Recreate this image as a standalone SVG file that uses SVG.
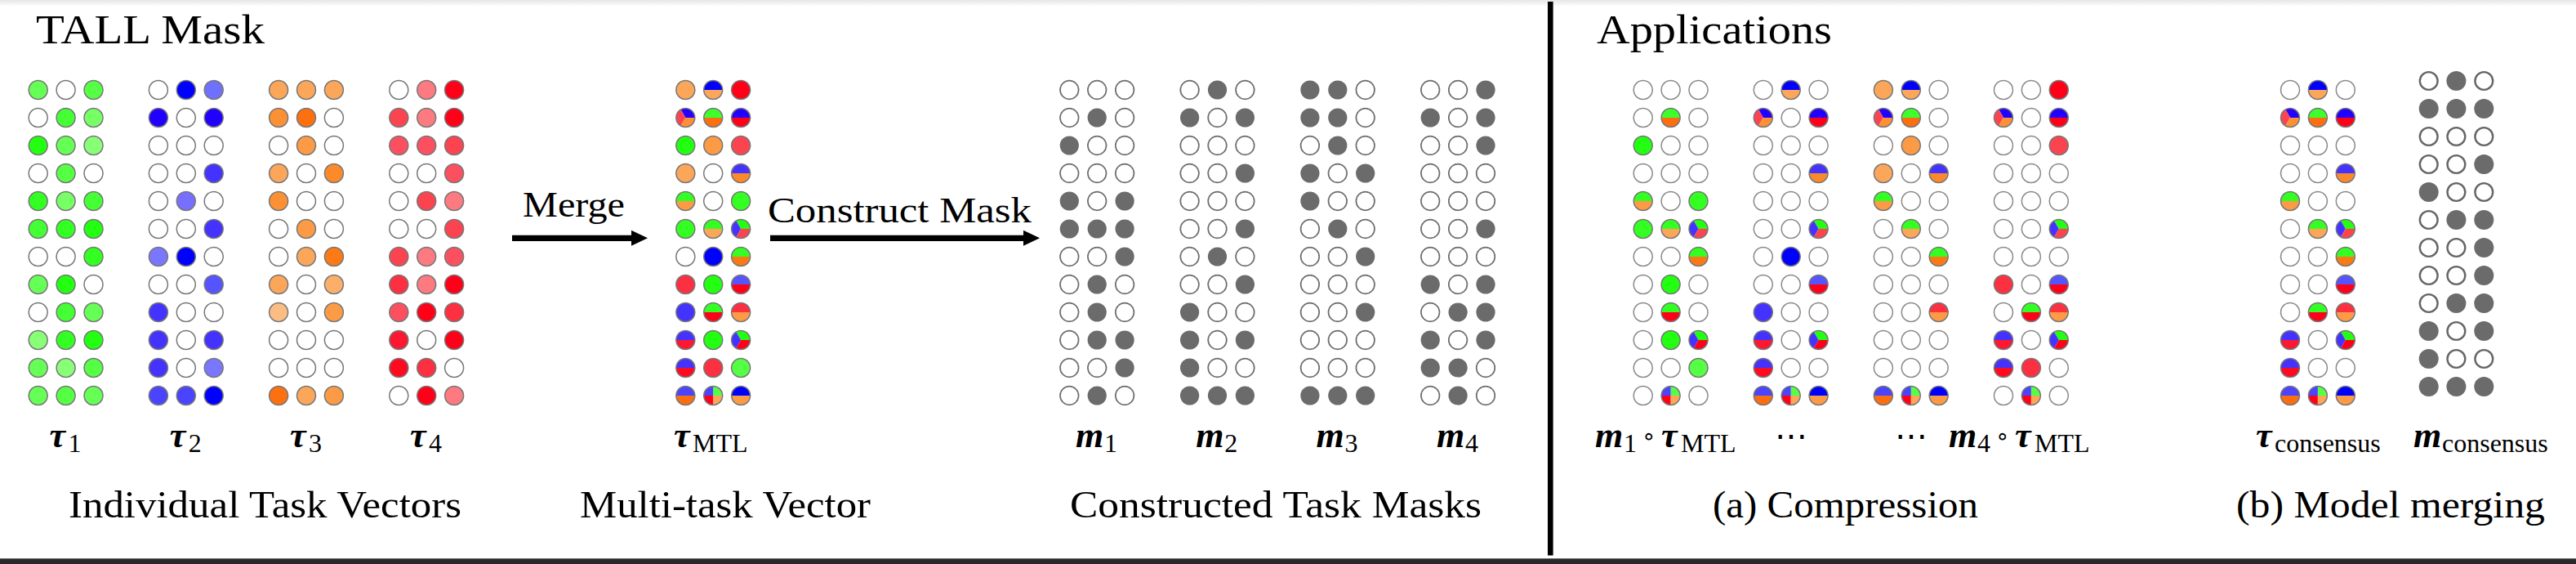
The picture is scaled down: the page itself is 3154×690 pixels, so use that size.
<svg xmlns="http://www.w3.org/2000/svg" xmlns:xlink="http://www.w3.org/1999/xlink" width="3154" height="690" viewBox="0 0 3154 690">
<style>
.tv circle{stroke:#777;stroke-width:1.5}
.t{font-family:"Liberation Serif","DejaVu Serif",serif;fill:#000}
.h{font-size:51px}
.lb{font-size:46px}
.ar{font-size:44px}
.mi{font-style:italic;font-weight:bold;font-size:44px}
.sb{font-style:normal;font-weight:normal;font-size:32px}
.op{font-family:"DejaVu Sans",sans-serif;font-style:normal;font-weight:normal;font-size:28px}
.dt{font-family:"DejaVu Serif",serif;font-size:40px}
.shaft{stroke:#000;stroke-width:7.3;fill:none}
</style>
<defs>
<linearGradient id="topg" x1="0" y1="0" x2="0" y2="1"><stop offset="0" stop-color="#e6e6e6"/><stop offset="1" stop-color="#ffffff"/></linearGradient>
<marker id="ah" markerUnits="userSpaceOnUse" markerWidth="21" markerHeight="19" refX="0" refY="9.5" orient="auto" overflow="visible"><path d="M0,0 L20,9.5 L0,19 Z" fill="#000"/></marker>
<circle id="e" r="11.5" fill="#fff" stroke="#777" stroke-width="1.5"/>
<circle id="e2" r="11.5" fill="#fff" stroke="#8a8a8a" stroke-width="1.5"/>
<circle id="e3" r="11.3" fill="#fff" stroke="#6e6e6e" stroke-width="1.7"/>
<circle id="g" r="11.6" fill="#6b6b6b"/>
<circle id="ec" r="10.9" fill="#fff" stroke="#666" stroke-width="2.4"/>
<circle id="gc" r="12" fill="#6b6b6b"/>
<circle id="o" r="11.5" fill="none" stroke="#777" stroke-width="1.5"/>
<circle id="f" r="11.5"/>
<path id="ht" d="M-11.5,0 A11.5,11.5 0 0 1 11.5,0 Z"/>
<path id="hb" d="M-11.5,0 A11.5,11.5 0 0 0 11.5,0 Z"/>
<path id="wA" d="M0,0 L11.5,0 A11.5,11.5 0 0 0 -5.75,-9.959 Z"/>
<path id="wB" d="M0,0 L-5.75,-9.959 A11.5,11.5 0 0 0 -5.75,9.959 Z"/>
<path id="wC" d="M0,0 L-5.75,9.959 A11.5,11.5 0 0 0 11.5,0 Z"/>
<path id="qTR" d="M0,0 L11.5,0 A11.5,11.5 0 0 0 0,-11.5 Z"/>
<path id="qTL" d="M0,0 L0,-11.5 A11.5,11.5 0 0 0 -11.5,0 Z"/>
<path id="qBL" d="M0,0 L-11.5,0 A11.5,11.5 0 0 0 0,11.5 Z"/>
<path id="qBR" d="M0,0 L0,11.5 A11.5,11.5 0 0 0 11.5,0 Z"/>
<g id="k1a"><use href="#f" fill="#fca65a"/><use href="#o"/></g>
<g id="k1b"><use href="#ht" fill="#0000ff"/><use href="#hb" fill="#fca65a"/><use href="#o"/></g>
<g id="k1c"><use href="#f" fill="#ff0018"/><use href="#o"/></g>
<g id="k2a"><use href="#wA" fill="#2200ff"/><use href="#wB" fill="#fc4450"/><use href="#wC" fill="#fc9035"/><use href="#o"/></g>
<g id="k2b"><use href="#ht" fill="#3cff2c"/><use href="#hb" fill="#fc6e10"/><use href="#o"/></g>
<g id="k2c"><use href="#ht" fill="#2200ff"/><use href="#hb" fill="#ff0018"/><use href="#o"/></g>
<g id="k3a"><use href="#f" fill="#22ff11"/><use href="#o"/></g>
<g id="k3b"><use href="#f" fill="#fc9a45"/><use href="#o"/></g>
<g id="k3c"><use href="#f" fill="#fc4450"/><use href="#o"/></g>
<g id="k4a"><use href="#f" fill="#fca65a"/><use href="#o"/></g>
<g id="k4c"><use href="#ht" fill="#4433ff"/><use href="#hb" fill="#fc8a2a"/><use href="#o"/></g>
<g id="k5a"><use href="#ht" fill="#33ff22"/><use href="#hb" fill="#fc9a45"/><use href="#o"/></g>
<g id="k5c"><use href="#f" fill="#33ff22"/><use href="#o"/></g>
<g id="k6a"><use href="#f" fill="#33ff22"/><use href="#o"/></g>
<g id="k6b"><use href="#ht" fill="#33ff22"/><use href="#hb" fill="#fca65a"/><use href="#o"/></g>
<g id="k6c"><use href="#wA" fill="#22ff11"/><use href="#wB" fill="#4433ff"/><use href="#wC" fill="#fc4450"/><use href="#o"/></g>
<g id="k7b"><use href="#f" fill="#0000ff"/><use href="#o"/></g>
<g id="k7c"><use href="#ht" fill="#33ff22"/><use href="#hb" fill="#fc7a15"/><use href="#o"/></g>
<g id="k8a"><use href="#f" fill="#fc3040"/><use href="#o"/></g>
<g id="k8b"><use href="#f" fill="#22ff11"/><use href="#o"/></g>
<g id="k8c"><use href="#ht" fill="#5555ff"/><use href="#hb" fill="#ff0018"/><use href="#o"/></g>
<g id="k9a"><use href="#f" fill="#4433ff"/><use href="#o"/></g>
<g id="k9b"><use href="#ht" fill="#33ff22"/><use href="#hb" fill="#ff0018"/><use href="#o"/></g>
<g id="k9c"><use href="#ht" fill="#fc3040"/><use href="#hb" fill="#fc9a45"/><use href="#o"/></g>
<g id="k10a"><use href="#ht" fill="#4433ff"/><use href="#hb" fill="#fc1830"/><use href="#o"/></g>
<g id="k10b"><use href="#f" fill="#22ff11"/><use href="#o"/></g>
<g id="k10c"><use href="#wA" fill="#22ff11"/><use href="#wB" fill="#4433ff"/><use href="#wC" fill="#ff0018"/><use href="#o"/></g>
<g id="k11a"><use href="#ht" fill="#4433ff"/><use href="#hb" fill="#ff0a20"/><use href="#o"/></g>
<g id="k11b"><use href="#f" fill="#fc3040"/><use href="#o"/></g>
<g id="k11c"><use href="#f" fill="#55ff44"/><use href="#o"/></g>
<g id="k12a"><use href="#ht" fill="#4a44ff"/><use href="#hb" fill="#fc6e10"/><use href="#o"/></g>
<g id="k12b"><use href="#qTR" fill="#55ff44"/><use href="#qTL" fill="#4a44ff"/><use href="#qBL" fill="#ff0018"/><use href="#qBR" fill="#fca65a"/><use href="#o"/></g>
<g id="k12c"><use href="#ht" fill="#0000ff"/><use href="#hb" fill="#fc9a45"/><use href="#o"/></g>
</defs>

<rect x="0" y="0" width="3154" height="690" fill="#fff"/>
<rect x="0" y="0" width="3154" height="8" fill="url(#topg)"/>

<!-- Titles -->
<text class="t h" x="44" y="53" textLength="280" lengthAdjust="spacingAndGlyphs">TALL Mask</text>
<text class="t h" x="1955" y="53" textLength="288" lengthAdjust="spacingAndGlyphs">Applications</text>

<!-- Individual task vectors -->
<g id="tau1" class="tv" transform="translate(46.7,0)">
<circle cx="0" cy="110" r="11.5" fill="#66ff55"/><circle cx="33.9" cy="110" r="11.5" fill="#fff"/><circle cx="67.8" cy="110" r="11.5" fill="#55ff44"/>
<circle cx="0" cy="144" r="11.5" fill="#fff"/><circle cx="33.9" cy="144" r="11.5" fill="#44ff33"/><circle cx="67.8" cy="144" r="11.5" fill="#77ff66"/>
<circle cx="0" cy="178" r="11.5" fill="#22ff11"/><circle cx="33.9" cy="178" r="11.5" fill="#66ff55"/><circle cx="67.8" cy="178" r="11.5" fill="#88ff77"/>
<circle cx="0" cy="212" r="11.5" fill="#fff"/><circle cx="33.9" cy="212" r="11.5" fill="#55ff44"/><circle cx="67.8" cy="212" r="11.5" fill="#fff"/>
<circle cx="0" cy="246" r="11.5" fill="#33ff22"/><circle cx="33.9" cy="246" r="11.5" fill="#77ff66"/><circle cx="67.8" cy="246" r="11.5" fill="#44ff33"/>
<circle cx="0" cy="280" r="11.5" fill="#44ff33"/><circle cx="33.9" cy="280" r="11.5" fill="#33ff22"/><circle cx="67.8" cy="280" r="11.5" fill="#22ff11"/>
<circle cx="0" cy="314" r="11.5" fill="#fff"/><circle cx="33.9" cy="314" r="11.5" fill="#fff"/><circle cx="67.8" cy="314" r="11.5" fill="#33ff22"/>
<circle cx="0" cy="348" r="11.5" fill="#66ff55"/><circle cx="33.9" cy="348" r="11.5" fill="#22ff11"/><circle cx="67.8" cy="348" r="11.5" fill="#fff"/>
<circle cx="0" cy="382" r="11.5" fill="#fff"/><circle cx="33.9" cy="382" r="11.5" fill="#44ff33"/><circle cx="67.8" cy="382" r="11.5" fill="#66ff55"/>
<circle cx="0" cy="416" r="11.5" fill="#88ff77"/><circle cx="33.9" cy="416" r="11.5" fill="#33ff22"/><circle cx="67.8" cy="416" r="11.5" fill="#22ff11"/>
<circle cx="0" cy="450" r="11.5" fill="#66ff55"/><circle cx="33.9" cy="450" r="11.5" fill="#88ff77"/><circle cx="67.8" cy="450" r="11.5" fill="#55ff44"/>
<circle cx="0" cy="484" r="11.5" fill="#66ff55"/><circle cx="33.9" cy="484" r="11.5" fill="#55ff44"/><circle cx="67.8" cy="484" r="11.5" fill="#66ff55"/>
</g>
<g id="tau2" class="tv" transform="translate(193.9,0)">
<circle cx="0" cy="110" r="11.5" fill="#fff"/><circle cx="33.9" cy="110" r="11.5" fill="#0000ff"/><circle cx="67.8" cy="110" r="11.5" fill="#7070ff"/>
<circle cx="0" cy="144" r="11.5" fill="#2200ff"/><circle cx="33.9" cy="144" r="11.5" fill="#fff"/><circle cx="67.8" cy="144" r="11.5" fill="#2200ff"/>
<circle cx="0" cy="178" r="11.5" fill="#fff"/><circle cx="33.9" cy="178" r="11.5" fill="#fff"/><circle cx="67.8" cy="178" r="11.5" fill="#fff"/>
<circle cx="0" cy="212" r="11.5" fill="#fff"/><circle cx="33.9" cy="212" r="11.5" fill="#fff"/><circle cx="67.8" cy="212" r="11.5" fill="#4433ff"/>
<circle cx="0" cy="246" r="11.5" fill="#fff"/><circle cx="33.9" cy="246" r="11.5" fill="#7770ff"/><circle cx="67.8" cy="246" r="11.5" fill="#fff"/>
<circle cx="0" cy="280" r="11.5" fill="#fff"/><circle cx="33.9" cy="280" r="11.5" fill="#fff"/><circle cx="67.8" cy="280" r="11.5" fill="#4433ff"/>
<circle cx="0" cy="314" r="11.5" fill="#7a77ff"/><circle cx="33.9" cy="314" r="11.5" fill="#0000ff"/><circle cx="67.8" cy="314" r="11.5" fill="#fff"/>
<circle cx="0" cy="348" r="11.5" fill="#fff"/><circle cx="33.9" cy="348" r="11.5" fill="#fff"/><circle cx="67.8" cy="348" r="11.5" fill="#5555ff"/>
<circle cx="0" cy="382" r="11.5" fill="#4433ff"/><circle cx="33.9" cy="382" r="11.5" fill="#fff"/><circle cx="67.8" cy="382" r="11.5" fill="#fff"/>
<circle cx="0" cy="416" r="11.5" fill="#4433ff"/><circle cx="33.9" cy="416" r="11.5" fill="#fff"/><circle cx="67.8" cy="416" r="11.5" fill="#4433ff"/>
<circle cx="0" cy="450" r="11.5" fill="#4433ff"/><circle cx="33.9" cy="450" r="11.5" fill="#fff"/><circle cx="67.8" cy="450" r="11.5" fill="#7a77ff"/>
<circle cx="0" cy="484" r="11.5" fill="#4a44ff"/><circle cx="33.9" cy="484" r="11.5" fill="#4a44ff"/><circle cx="67.8" cy="484" r="11.5" fill="#0000ff"/>
</g>
<g id="tau3" class="tv" transform="translate(341.1,0)">
<circle cx="0" cy="110" r="11.5" fill="#fca65a"/><circle cx="33.9" cy="110" r="11.5" fill="#fca65a"/><circle cx="67.8" cy="110" r="11.5" fill="#fca65a"/>
<circle cx="0" cy="144" r="11.5" fill="#fc9035"/><circle cx="33.9" cy="144" r="11.5" fill="#fc7010"/><circle cx="67.8" cy="144" r="11.5" fill="#fff"/>
<circle cx="0" cy="178" r="11.5" fill="#fff"/><circle cx="33.9" cy="178" r="11.5" fill="#fc9a45"/><circle cx="67.8" cy="178" r="11.5" fill="#fff"/>
<circle cx="0" cy="212" r="11.5" fill="#fca65a"/><circle cx="33.9" cy="212" r="11.5" fill="#fff"/><circle cx="67.8" cy="212" r="11.5" fill="#fc8a2a"/>
<circle cx="0" cy="246" r="11.5" fill="#fc9035"/><circle cx="33.9" cy="246" r="11.5" fill="#fff"/><circle cx="67.8" cy="246" r="11.5" fill="#fff"/>
<circle cx="0" cy="280" r="11.5" fill="#fff"/><circle cx="33.9" cy="280" r="11.5" fill="#fc9a45"/><circle cx="67.8" cy="280" r="11.5" fill="#fff"/>
<circle cx="0" cy="314" r="11.5" fill="#fff"/><circle cx="33.9" cy="314" r="11.5" fill="#fca65a"/><circle cx="67.8" cy="314" r="11.5" fill="#fc7a15"/>
<circle cx="0" cy="348" r="11.5" fill="#fca65a"/><circle cx="33.9" cy="348" r="11.5" fill="#fff"/><circle cx="67.8" cy="348" r="11.5" fill="#fcaf6a"/>
<circle cx="0" cy="382" r="11.5" fill="#fcbd85"/><circle cx="33.9" cy="382" r="11.5" fill="#fff"/><circle cx="67.8" cy="382" r="11.5" fill="#fc9a45"/>
<circle cx="0" cy="416" r="11.5" fill="#fff"/><circle cx="33.9" cy="416" r="11.5" fill="#fff"/><circle cx="67.8" cy="416" r="11.5" fill="#fff"/>
<circle cx="0" cy="450" r="11.5" fill="#fff"/><circle cx="33.9" cy="450" r="11.5" fill="#fff"/><circle cx="67.8" cy="450" r="11.5" fill="#fff"/>
<circle cx="0" cy="484" r="11.5" fill="#fc7010"/><circle cx="33.9" cy="484" r="11.5" fill="#fca65a"/><circle cx="67.8" cy="484" r="11.5" fill="#fc9a45"/>
</g>
<g id="tau4" class="tv" transform="translate(488.3,0)">
<circle cx="0" cy="110" r="11.5" fill="#fff"/><circle cx="33.9" cy="110" r="11.5" fill="#fc7a80"/><circle cx="67.8" cy="110" r="11.5" fill="#ff0018"/>
<circle cx="0" cy="144" r="11.5" fill="#fc4450"/><circle cx="33.9" cy="144" r="11.5" fill="#fc7a80"/><circle cx="67.8" cy="144" r="11.5" fill="#ff0018"/>
<circle cx="0" cy="178" r="11.5" fill="#fc5060"/><circle cx="33.9" cy="178" r="11.5" fill="#fc5060"/><circle cx="67.8" cy="178" r="11.5" fill="#fc4450"/>
<circle cx="0" cy="212" r="11.5" fill="#fff"/><circle cx="33.9" cy="212" r="11.5" fill="#fff"/><circle cx="67.8" cy="212" r="11.5" fill="#fc5060"/>
<circle cx="0" cy="246" r="11.5" fill="#fff"/><circle cx="33.9" cy="246" r="11.5" fill="#fc4450"/><circle cx="67.8" cy="246" r="11.5" fill="#fc7a80"/>
<circle cx="0" cy="280" r="11.5" fill="#fff"/><circle cx="33.9" cy="280" r="11.5" fill="#fff"/><circle cx="67.8" cy="280" r="11.5" fill="#fc4450"/>
<circle cx="0" cy="314" r="11.5" fill="#fc4450"/><circle cx="33.9" cy="314" r="11.5" fill="#fc7a80"/><circle cx="67.8" cy="314" r="11.5" fill="#fc5060"/>
<circle cx="0" cy="348" r="11.5" fill="#fc3040"/><circle cx="33.9" cy="348" r="11.5" fill="#fc7a80"/><circle cx="67.8" cy="348" r="11.5" fill="#ff0018"/>
<circle cx="0" cy="382" r="11.5" fill="#fc5060"/><circle cx="33.9" cy="382" r="11.5" fill="#ff0018"/><circle cx="67.8" cy="382" r="11.5" fill="#fc3040"/>
<circle cx="0" cy="416" r="11.5" fill="#fc1830"/><circle cx="33.9" cy="416" r="11.5" fill="#fff"/><circle cx="67.8" cy="416" r="11.5" fill="#ff0018"/>
<circle cx="0" cy="450" r="11.5" fill="#ff0a20"/><circle cx="33.9" cy="450" r="11.5" fill="#fc3040"/><circle cx="67.8" cy="450" r="11.5" fill="#fff"/>
<circle cx="0" cy="484" r="11.5" fill="#fff"/><circle cx="33.9" cy="484" r="11.5" fill="#ff0018"/><circle cx="67.8" cy="484" r="11.5" fill="#fc7a80"/>
</g>

<!-- Multi-task vector -->
<g id="tau-mtl" transform="translate(839.3,0)">
<use href="#k1a" x="0" y="110"/><use href="#k1b" x="33.9" y="110"/><use href="#k1c" x="67.8" y="110"/>
<use href="#k2a" x="0" y="144"/><use href="#k2b" x="33.9" y="144"/><use href="#k2c" x="67.8" y="144"/>
<use href="#k3a" x="0" y="178"/><use href="#k3b" x="33.9" y="178"/><use href="#k3c" x="67.8" y="178"/>
<use href="#k4a" x="0" y="212"/><use href="#e" x="33.9" y="212"/><use href="#k4c" x="67.8" y="212"/>
<use href="#k5a" x="0" y="246"/><use href="#e" x="33.9" y="246"/><use href="#k5c" x="67.8" y="246"/>
<use href="#k6a" x="0" y="280"/><use href="#k6b" x="33.9" y="280"/><use href="#k6c" x="67.8" y="280"/>
<use href="#e" x="0" y="314"/><use href="#k7b" x="33.9" y="314"/><use href="#k7c" x="67.8" y="314"/>
<use href="#k8a" x="0" y="348"/><use href="#k8b" x="33.9" y="348"/><use href="#k8c" x="67.8" y="348"/>
<use href="#k9a" x="0" y="382"/><use href="#k9b" x="33.9" y="382"/><use href="#k9c" x="67.8" y="382"/>
<use href="#k10a" x="0" y="416"/><use href="#k10b" x="33.9" y="416"/><use href="#k10c" x="67.8" y="416"/>
<use href="#k11a" x="0" y="450"/><use href="#k11b" x="33.9" y="450"/><use href="#k11c" x="67.8" y="450"/>
<use href="#k12a" x="0" y="484"/><use href="#k12b" x="33.9" y="484"/><use href="#k12c" x="67.8" y="484"/>
</g>

<!-- Constructed masks -->
<g id="mask1" transform="translate(1309.3,0)">
<use href="#e3" x="0" y="110"/><use href="#e3" x="33.9" y="110"/><use href="#e3" x="67.8" y="110"/>
<use href="#e3" x="0" y="144"/><use href="#g" x="33.9" y="144"/><use href="#e3" x="67.8" y="144"/>
<use href="#g" x="0" y="178"/><use href="#e3" x="33.9" y="178"/><use href="#e3" x="67.8" y="178"/>
<use href="#e3" x="0" y="212"/><use href="#e3" x="33.9" y="212"/><use href="#e3" x="67.8" y="212"/>
<use href="#g" x="0" y="246"/><use href="#e3" x="33.9" y="246"/><use href="#g" x="67.8" y="246"/>
<use href="#g" x="0" y="280"/><use href="#g" x="33.9" y="280"/><use href="#g" x="67.8" y="280"/>
<use href="#e3" x="0" y="314"/><use href="#e3" x="33.9" y="314"/><use href="#g" x="67.8" y="314"/>
<use href="#e3" x="0" y="348"/><use href="#g" x="33.9" y="348"/><use href="#e3" x="67.8" y="348"/>
<use href="#e3" x="0" y="382"/><use href="#g" x="33.9" y="382"/><use href="#e3" x="67.8" y="382"/>
<use href="#e3" x="0" y="416"/><use href="#g" x="33.9" y="416"/><use href="#g" x="67.8" y="416"/>
<use href="#e3" x="0" y="450"/><use href="#e3" x="33.9" y="450"/><use href="#g" x="67.8" y="450"/>
<use href="#e3" x="0" y="484"/><use href="#g" x="33.9" y="484"/><use href="#e3" x="67.8" y="484"/>
</g>
<g id="mask2" transform="translate(1456.6,0)">
<use href="#e3" x="0" y="110"/><use href="#g" x="33.9" y="110"/><use href="#e3" x="67.8" y="110"/>
<use href="#g" x="0" y="144"/><use href="#e3" x="33.9" y="144"/><use href="#g" x="67.8" y="144"/>
<use href="#e3" x="0" y="178"/><use href="#e3" x="33.9" y="178"/><use href="#e3" x="67.8" y="178"/>
<use href="#e3" x="0" y="212"/><use href="#e3" x="33.9" y="212"/><use href="#g" x="67.8" y="212"/>
<use href="#e3" x="0" y="246"/><use href="#e3" x="33.9" y="246"/><use href="#e3" x="67.8" y="246"/>
<use href="#e3" x="0" y="280"/><use href="#e3" x="33.9" y="280"/><use href="#g" x="67.8" y="280"/>
<use href="#e3" x="0" y="314"/><use href="#g" x="33.9" y="314"/><use href="#e3" x="67.8" y="314"/>
<use href="#e3" x="0" y="348"/><use href="#e3" x="33.9" y="348"/><use href="#g" x="67.8" y="348"/>
<use href="#g" x="0" y="382"/><use href="#e3" x="33.9" y="382"/><use href="#e3" x="67.8" y="382"/>
<use href="#g" x="0" y="416"/><use href="#e3" x="33.9" y="416"/><use href="#g" x="67.8" y="416"/>
<use href="#g" x="0" y="450"/><use href="#e3" x="33.9" y="450"/><use href="#e3" x="67.8" y="450"/>
<use href="#g" x="0" y="484"/><use href="#g" x="33.9" y="484"/><use href="#g" x="67.8" y="484"/>
</g>
<g id="mask3" transform="translate(1603.9,0)">
<use href="#g" x="0" y="110"/><use href="#g" x="33.9" y="110"/><use href="#e3" x="67.8" y="110"/>
<use href="#g" x="0" y="144"/><use href="#g" x="33.9" y="144"/><use href="#e3" x="67.8" y="144"/>
<use href="#e3" x="0" y="178"/><use href="#g" x="33.9" y="178"/><use href="#e3" x="67.8" y="178"/>
<use href="#g" x="0" y="212"/><use href="#e3" x="33.9" y="212"/><use href="#g" x="67.8" y="212"/>
<use href="#g" x="0" y="246"/><use href="#e3" x="33.9" y="246"/><use href="#e3" x="67.8" y="246"/>
<use href="#e3" x="0" y="280"/><use href="#g" x="33.9" y="280"/><use href="#e3" x="67.8" y="280"/>
<use href="#e3" x="0" y="314"/><use href="#e3" x="33.9" y="314"/><use href="#g" x="67.8" y="314"/>
<use href="#e3" x="0" y="348"/><use href="#e3" x="33.9" y="348"/><use href="#e3" x="67.8" y="348"/>
<use href="#e3" x="0" y="382"/><use href="#e3" x="33.9" y="382"/><use href="#g" x="67.8" y="382"/>
<use href="#e3" x="0" y="416"/><use href="#e3" x="33.9" y="416"/><use href="#e3" x="67.8" y="416"/>
<use href="#e3" x="0" y="450"/><use href="#e3" x="33.9" y="450"/><use href="#e3" x="67.8" y="450"/>
<use href="#g" x="0" y="484"/><use href="#g" x="33.9" y="484"/><use href="#g" x="67.8" y="484"/>
</g>
<g id="mask4" transform="translate(1751.2,0)">
<use href="#e3" x="0" y="110"/><use href="#e3" x="33.9" y="110"/><use href="#g" x="67.8" y="110"/>
<use href="#g" x="0" y="144"/><use href="#e3" x="33.9" y="144"/><use href="#g" x="67.8" y="144"/>
<use href="#e3" x="0" y="178"/><use href="#e3" x="33.9" y="178"/><use href="#g" x="67.8" y="178"/>
<use href="#e3" x="0" y="212"/><use href="#e3" x="33.9" y="212"/><use href="#e3" x="67.8" y="212"/>
<use href="#e3" x="0" y="246"/><use href="#e3" x="33.9" y="246"/><use href="#e3" x="67.8" y="246"/>
<use href="#e3" x="0" y="280"/><use href="#e3" x="33.9" y="280"/><use href="#g" x="67.8" y="280"/>
<use href="#e3" x="0" y="314"/><use href="#e3" x="33.9" y="314"/><use href="#e3" x="67.8" y="314"/>
<use href="#g" x="0" y="348"/><use href="#e3" x="33.9" y="348"/><use href="#g" x="67.8" y="348"/>
<use href="#e3" x="0" y="382"/><use href="#g" x="33.9" y="382"/><use href="#g" x="67.8" y="382"/>
<use href="#g" x="0" y="416"/><use href="#e3" x="33.9" y="416"/><use href="#g" x="67.8" y="416"/>
<use href="#g" x="0" y="450"/><use href="#g" x="33.9" y="450"/><use href="#e3" x="67.8" y="450"/>
<use href="#e3" x="0" y="484"/><use href="#g" x="33.9" y="484"/><use href="#e3" x="67.8" y="484"/>
</g>

<!-- Applications: compression -->
<g id="app1" transform="translate(2011.7,0)">
<use href="#e2" x="0" y="110"/><use href="#e2" x="33.9" y="110"/><use href="#e2" x="67.8" y="110"/>
<use href="#e2" x="0" y="144"/><use href="#k2b" x="33.9" y="144"/><use href="#e2" x="67.8" y="144"/>
<use href="#k3a" x="0" y="178"/><use href="#e2" x="33.9" y="178"/><use href="#e2" x="67.8" y="178"/>
<use href="#e2" x="0" y="212"/><use href="#e2" x="33.9" y="212"/><use href="#e2" x="67.8" y="212"/>
<use href="#k5a" x="0" y="246"/><use href="#e2" x="33.9" y="246"/><use href="#k5c" x="67.8" y="246"/>
<use href="#k6a" x="0" y="280"/><use href="#k6b" x="33.9" y="280"/><use href="#k6c" x="67.8" y="280"/>
<use href="#e2" x="0" y="314"/><use href="#e2" x="33.9" y="314"/><use href="#k7c" x="67.8" y="314"/>
<use href="#e2" x="0" y="348"/><use href="#k8b" x="33.9" y="348"/><use href="#e2" x="67.8" y="348"/>
<use href="#e2" x="0" y="382"/><use href="#k9b" x="33.9" y="382"/><use href="#e2" x="67.8" y="382"/>
<use href="#e2" x="0" y="416"/><use href="#k10b" x="33.9" y="416"/><use href="#k10c" x="67.8" y="416"/>
<use href="#e2" x="0" y="450"/><use href="#e2" x="33.9" y="450"/><use href="#k11c" x="67.8" y="450"/>
<use href="#e2" x="0" y="484"/><use href="#k12b" x="33.9" y="484"/><use href="#e2" x="67.8" y="484"/>
</g>
<g id="app2" transform="translate(2158.8,0)">
<use href="#e2" x="0" y="110"/><use href="#k1b" x="33.9" y="110"/><use href="#e2" x="67.8" y="110"/>
<use href="#k2a" x="0" y="144"/><use href="#e2" x="33.9" y="144"/><use href="#k2c" x="67.8" y="144"/>
<use href="#e2" x="0" y="178"/><use href="#e2" x="33.9" y="178"/><use href="#e2" x="67.8" y="178"/>
<use href="#e2" x="0" y="212"/><use href="#e2" x="33.9" y="212"/><use href="#k4c" x="67.8" y="212"/>
<use href="#e2" x="0" y="246"/><use href="#e2" x="33.9" y="246"/><use href="#e2" x="67.8" y="246"/>
<use href="#e2" x="0" y="280"/><use href="#e2" x="33.9" y="280"/><use href="#k6c" x="67.8" y="280"/>
<use href="#e2" x="0" y="314"/><use href="#k7b" x="33.9" y="314"/><use href="#e2" x="67.8" y="314"/>
<use href="#e2" x="0" y="348"/><use href="#e2" x="33.9" y="348"/><use href="#k8c" x="67.8" y="348"/>
<use href="#k9a" x="0" y="382"/><use href="#e2" x="33.9" y="382"/><use href="#e2" x="67.8" y="382"/>
<use href="#k10a" x="0" y="416"/><use href="#e2" x="33.9" y="416"/><use href="#k10c" x="67.8" y="416"/>
<use href="#k11a" x="0" y="450"/><use href="#e2" x="33.9" y="450"/><use href="#e2" x="67.8" y="450"/>
<use href="#k12a" x="0" y="484"/><use href="#k12b" x="33.9" y="484"/><use href="#k12c" x="67.8" y="484"/>
</g>
<g id="app3" transform="translate(2305.9,0)">
<use href="#k1a" x="0" y="110"/><use href="#k1b" x="33.9" y="110"/><use href="#e2" x="67.8" y="110"/>
<use href="#k2a" x="0" y="144"/><use href="#k2b" x="33.9" y="144"/><use href="#e2" x="67.8" y="144"/>
<use href="#e2" x="0" y="178"/><use href="#k3b" x="33.9" y="178"/><use href="#e2" x="67.8" y="178"/>
<use href="#k4a" x="0" y="212"/><use href="#e2" x="33.9" y="212"/><use href="#k4c" x="67.8" y="212"/>
<use href="#k5a" x="0" y="246"/><use href="#e2" x="33.9" y="246"/><use href="#e2" x="67.8" y="246"/>
<use href="#e2" x="0" y="280"/><use href="#k6b" x="33.9" y="280"/><use href="#e2" x="67.8" y="280"/>
<use href="#e2" x="0" y="314"/><use href="#e2" x="33.9" y="314"/><use href="#k7c" x="67.8" y="314"/>
<use href="#e2" x="0" y="348"/><use href="#e2" x="33.9" y="348"/><use href="#e2" x="67.8" y="348"/>
<use href="#e2" x="0" y="382"/><use href="#e2" x="33.9" y="382"/><use href="#k9c" x="67.8" y="382"/>
<use href="#e2" x="0" y="416"/><use href="#e2" x="33.9" y="416"/><use href="#e2" x="67.8" y="416"/>
<use href="#e2" x="0" y="450"/><use href="#e2" x="33.9" y="450"/><use href="#e2" x="67.8" y="450"/>
<use href="#k12a" x="0" y="484"/><use href="#k12b" x="33.9" y="484"/><use href="#k12c" x="67.8" y="484"/>
</g>
<g id="app4" transform="translate(2453,0)">
<use href="#e2" x="0" y="110"/><use href="#e2" x="33.9" y="110"/><use href="#k1c" x="67.8" y="110"/>
<use href="#k2a" x="0" y="144"/><use href="#e2" x="33.9" y="144"/><use href="#k2c" x="67.8" y="144"/>
<use href="#e2" x="0" y="178"/><use href="#e2" x="33.9" y="178"/><use href="#k3c" x="67.8" y="178"/>
<use href="#e2" x="0" y="212"/><use href="#e2" x="33.9" y="212"/><use href="#e2" x="67.8" y="212"/>
<use href="#e2" x="0" y="246"/><use href="#e2" x="33.9" y="246"/><use href="#e2" x="67.8" y="246"/>
<use href="#e2" x="0" y="280"/><use href="#e2" x="33.9" y="280"/><use href="#k6c" x="67.8" y="280"/>
<use href="#e2" x="0" y="314"/><use href="#e2" x="33.9" y="314"/><use href="#e2" x="67.8" y="314"/>
<use href="#k8a" x="0" y="348"/><use href="#e2" x="33.9" y="348"/><use href="#k8c" x="67.8" y="348"/>
<use href="#e2" x="0" y="382"/><use href="#k9b" x="33.9" y="382"/><use href="#k9c" x="67.8" y="382"/>
<use href="#k10a" x="0" y="416"/><use href="#e2" x="33.9" y="416"/><use href="#k10c" x="67.8" y="416"/>
<use href="#k11a" x="0" y="450"/><use href="#k11b" x="33.9" y="450"/><use href="#e2" x="67.8" y="450"/>
<use href="#e2" x="0" y="484"/><use href="#k12b" x="33.9" y="484"/><use href="#e2" x="67.8" y="484"/>
</g>

<!-- Applications: model merging -->
<g id="tau-consensus" transform="translate(2804,0)">
<use href="#e2" x="0" y="110"/><use href="#k1b" x="33.9" y="110"/><use href="#e2" x="67.8" y="110"/>
<use href="#k2a" x="0" y="144"/><use href="#k2b" x="33.9" y="144"/><use href="#k2c" x="67.8" y="144"/>
<use href="#e2" x="0" y="178"/><use href="#e2" x="33.9" y="178"/><use href="#e2" x="67.8" y="178"/>
<use href="#e2" x="0" y="212"/><use href="#e2" x="33.9" y="212"/><use href="#k4c" x="67.8" y="212"/>
<use href="#k5a" x="0" y="246"/><use href="#e2" x="33.9" y="246"/><use href="#e2" x="67.8" y="246"/>
<use href="#e2" x="0" y="280"/><use href="#k6b" x="33.9" y="280"/><use href="#k6c" x="67.8" y="280"/>
<use href="#e2" x="0" y="314"/><use href="#e2" x="33.9" y="314"/><use href="#k7c" x="67.8" y="314"/>
<use href="#e2" x="0" y="348"/><use href="#e2" x="33.9" y="348"/><use href="#k8c" x="67.8" y="348"/>
<use href="#e2" x="0" y="382"/><use href="#k9b" x="33.9" y="382"/><use href="#k9c" x="67.8" y="382"/>
<use href="#k10a" x="0" y="416"/><use href="#e2" x="33.9" y="416"/><use href="#k10c" x="67.8" y="416"/>
<use href="#k11a" x="0" y="450"/><use href="#e2" x="33.9" y="450"/><use href="#e2" x="67.8" y="450"/>
<use href="#k12a" x="0" y="484"/><use href="#k12b" x="33.9" y="484"/><use href="#k12c" x="67.8" y="484"/>
</g>
<g id="m-consensus" transform="translate(2973.7,0)">
<use href="#ec" x="0" y="99"/><use href="#gc" x="33.7" y="99"/><use href="#ec" x="67.6" y="99"/>
<use href="#gc" x="0" y="133"/><use href="#gc" x="33.7" y="133"/><use href="#gc" x="67.6" y="133"/>
<use href="#ec" x="0" y="167"/><use href="#ec" x="33.7" y="167"/><use href="#ec" x="67.6" y="167"/>
<use href="#ec" x="0" y="201"/><use href="#ec" x="33.7" y="201"/><use href="#gc" x="67.6" y="201"/>
<use href="#gc" x="0" y="235"/><use href="#ec" x="33.7" y="235"/><use href="#ec" x="67.6" y="235"/>
<use href="#ec" x="0" y="269"/><use href="#gc" x="33.7" y="269"/><use href="#gc" x="67.6" y="269"/>
<use href="#ec" x="0" y="303"/><use href="#ec" x="33.7" y="303"/><use href="#gc" x="67.6" y="303"/>
<use href="#ec" x="0" y="337"/><use href="#ec" x="33.7" y="337"/><use href="#gc" x="67.6" y="337"/>
<use href="#ec" x="0" y="371"/><use href="#gc" x="33.7" y="371"/><use href="#gc" x="67.6" y="371"/>
<use href="#gc" x="0" y="405"/><use href="#ec" x="33.7" y="405"/><use href="#gc" x="67.6" y="405"/>
<use href="#gc" x="0" y="439"/><use href="#ec" x="33.7" y="439"/><use href="#ec" x="67.6" y="439"/>
<use href="#gc" x="0" y="473"/><use href="#gc" x="33.7" y="473"/><use href="#gc" x="67.6" y="473"/>
</g>

<!-- Connectors -->
<g id="connectors">
<line class="shaft" x1="627" y1="291.3" x2="773" y2="291.3" marker-end="url(#ah)"/>
<line class="shaft" x1="943" y1="291.3" x2="1253" y2="291.3" marker-end="url(#ah)"/>
</g>
<text class="t ar" x="640" y="265" textLength="125" lengthAdjust="spacingAndGlyphs">Merge</text>
<text class="t ar" x="940" y="272" textLength="323" lengthAdjust="spacingAndGlyphs">Construct Mask</text>

<!-- Math labels -->
<text class="t mi" y="547"><tspan x="60.5">τ</tspan><tspan class="sb" x="83.5" y="553">1</tspan></text>
<text class="t mi" y="547"><tspan x="207.7">τ</tspan><tspan class="sb" x="230.7" y="553">2</tspan></text>
<text class="t mi" y="547"><tspan x="354.9">τ</tspan><tspan class="sb" x="377.9" y="553">3</tspan></text>
<text class="t mi" y="547"><tspan x="502.1">τ</tspan><tspan class="sb" x="525.1" y="553">4</tspan></text>
<text class="t mi" y="547"><tspan x="825">τ</tspan><tspan class="sb" x="848" y="553">MTL</tspan></text>

<text class="t mi" y="547"><tspan x="1317">m</tspan><tspan class="sb" x="1352" y="553">1</tspan></text>
<text class="t mi" y="547"><tspan x="1464.3">m</tspan><tspan class="sb" x="1499.3" y="553">2</tspan></text>
<text class="t mi" y="547"><tspan x="1611.6">m</tspan><tspan class="sb" x="1646.6" y="553">3</tspan></text>
<text class="t mi" y="547"><tspan x="1758.9">m</tspan><tspan class="sb" x="1793.9" y="553">4</tspan></text>

<text class="t mi" y="547"><tspan x="1953">m</tspan><tspan class="sb" x="1988" y="553">1</tspan><tspan class="op" x="2010" y="543">∘</tspan><tspan x="2034" y="547">τ</tspan><tspan class="sb" x="2058" y="553">MTL</tspan></text>
<text class="t dt" x="2192.7" y="547" text-anchor="middle">⋯</text>
<text class="t dt" x="2339.7" y="547" text-anchor="middle">⋯</text>
<text class="t mi" y="547"><tspan x="2386">m</tspan><tspan class="sb" x="2421" y="553">4</tspan><tspan class="op" x="2443" y="543">∘</tspan><tspan x="2467" y="547">τ</tspan><tspan class="sb" x="2491" y="553">MTL</tspan></text>

<text class="t mi" y="547"><tspan x="2762">τ</tspan><tspan class="sb" x="2785" y="553">consensus</tspan></text>
<text class="t mi" y="547"><tspan x="2955">m</tspan><tspan class="sb" x="2990" y="553">consensus</tspan></text>

<!-- Bottom captions -->
<text class="t lb" x="84" y="633" textLength="481" lengthAdjust="spacingAndGlyphs">Individual Task Vectors</text>
<text class="t lb" x="710" y="633" textLength="356" lengthAdjust="spacingAndGlyphs">Multi-task Vector</text>
<text class="t lb" x="1310" y="633" textLength="504" lengthAdjust="spacingAndGlyphs">Constructed Task Masks</text>
<text class="t lb" x="2097" y="633" textLength="325" lengthAdjust="spacingAndGlyphs">(a) Compression</text>
<text class="t lb" x="2738" y="633" textLength="378" lengthAdjust="spacingAndGlyphs">(b) Model merging</text>

<!-- Divider and bottom band -->
<rect x="1895" y="2" width="6.6" height="677.5" fill="#000"/>
<rect x="0" y="683.3" width="3154" height="6.7" fill="#292929"/>
</svg>
